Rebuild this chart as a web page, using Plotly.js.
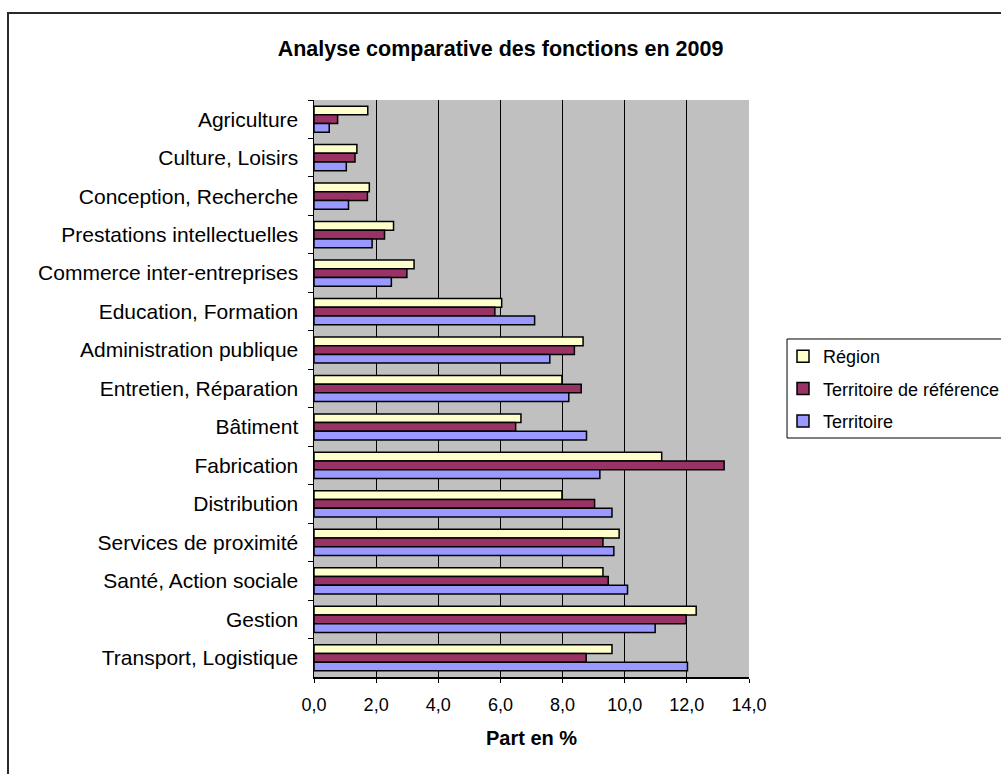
<!DOCTYPE html>
<html><head><meta charset="utf-8">
<script src="https://cdn.plot.ly/plotly-3.0.1.min.js"></script>
<style>
body{margin:0;padding:0;background:#fff;overflow:hidden}
#wrap{position:relative;width:1001px;height:774px;overflow:hidden}
#c{position:absolute;left:0;top:0;width:1001px;height:774px}
#frame{position:absolute;left:7px;top:12px;width:1100px;height:900px;border:2px solid #2a2a2a;pointer-events:none}
</style>
</head><body><div id="wrap"><div id="c"></div><div id="frame"></div></div>
<script>
const categories = ["Agriculture","Culture, Loisirs","Conception, Recherche","Prestations intellectuelles","Commerce inter-entreprises","Education, Formation","Administration publique","Entretien, Réparation","Bâtiment","Fabrication","Distribution","Services de proximité","Santé, Action sociale","Gestion","Transport, Logistique"];
const region = [1.73,1.38,1.78,2.56,3.22,6.04,8.66,7.98,6.66,11.19,7.98,9.82,9.30,12.30,9.59];
const territoireRef = [0.76,1.32,1.72,2.27,2.99,5.82,8.38,8.60,6.49,13.20,9.03,9.30,9.47,11.98,8.76];
const territoire = [0.49,1.04,1.11,1.87,2.49,7.10,7.59,8.20,8.77,9.20,9.59,9.65,10.09,10.98,12.02];
const seriesNames = ["Région","Territoire de référence","Territoire"];
const seriesColors = ["#FFFFCC","#993366","#9999FF"];
const seriesValues = [region, territoireRef, territoire];

const font = "Arial, 'Liberation Sans', sans-serif";
const traces = seriesValues.map((v,i)=>({
  type:"bar", orientation:"h", name:seriesNames[i], x:v, y:categories,
  legendgroup:"g"+i,
  marker:{color:seriesColors[i], line:{color:"#000", width:1.5}}
}));
const layout = {
  width:1001, height:774,
  margin:{l:314, r:252, t:100, b:97, autoexpand:false},
  paper_bgcolor:"rgba(0,0,0,0)", plot_bgcolor:"#C0C0C0",
  barmode:"group", bargap:0.32, bargroupgap:0,
  separators:", ",
  title:{text:"<b>Analyse comparative des fonctions en 2009</b>", font:{family:font,size:21.5,color:"#000"}, x:0.5, xanchor:"center", xref:"container", y:0.938, yanchor:"middle"},
  xaxis:{range:[0,14], dtick:2, tickformat:".1f", ticks:"outside", ticklen:4, tickcolor:"#000", ticklabelstandoff:7,
    showline:true, linecolor:"#000", linewidth:1.5, mirror:false,
    showgrid:true, gridcolor:"#000", gridwidth:1, zeroline:false,
    tickfont:{family:font,size:18,color:"#000"},
    title:{text:"<b>Part en %</b>", font:{family:font,size:20,color:"#000"}, standoff:17}},
  yaxis:{type:"category", autorange:"reversed", ticks:"outside", tickson:"boundaries", ticklen:5, tickcolor:"#000", ticklabelstandoff:10,
    showline:true, linecolor:"#000", linewidth:1.5, showgrid:false, zeroline:false,
    tickfont:{family:font,size:21,color:"#000"}},
  legend:{xref:"container", yref:"container", x:783/1001, xanchor:"left", y:1-389/774, yanchor:"middle", traceorder:"grouped", tracegroupgap:6,
    bgcolor:"rgba(0,0,0,0)", borderwidth:0,
    font:{family:font,size:18,color:"#000"}},
  shapes:[{type:"rect", xref:"paper", yref:"paper", x0:1.0874, x1:1.62, y0:0.4142, y1:0.5858,
    line:{color:"#000", width:1}, fillcolor:"#fff", layer:"below"}],
  showlegend:true
};
Plotly.newPlot("c", traces, layout, {displayModeBar:false, staticPlot:true});
</script></body></html>
